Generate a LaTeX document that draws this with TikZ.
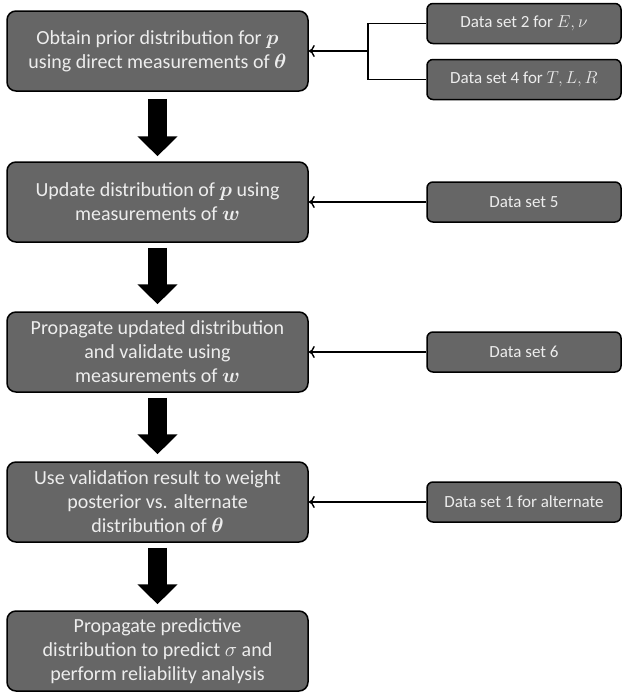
\documentclass[tikz,border=0pt]{standalone}
\usepackage{fontspec}
\setmainfont{Carlito}
\usepackage{amsmath}
\usepackage{tikz}
\usetikzlibrary{positioning}
\usetikzlibrary{arrows.meta}

\tikzset{
  stage/.style={draw=black, line width=1.5pt, fill=black!60, rounded corners=9pt,
    minimum width=301pt, minimum height=80pt, inner sep=0pt, align=center,
    text=white!93!black, font=\fontsize{20}{24}\selectfont},
  dataset/.style={draw=black, line width=1.5pt, fill=black!60, rounded corners=6pt,
    minimum width=194pt, minimum height=40pt, inner sep=0pt, align=center,
    text=white!93!black, font=\fontsize{17}{20}\selectfont},
  feed/.style={draw=black, line width=1.4pt, -{To[length=6pt, width=12pt]}},
  bigarrow/.style={draw=black, line width=19pt, -{Triangle[length=20pt, width=39pt]}}
}

\begin{document}
\begin{tikzpicture}[x=1pt, y=-1pt]
\useasboundingbox (0,0) rectangle (622,694);

% main stages
\node[stage] (obtain) at (157.5,51) {Obtain prior distribution for $\boldsymbol{p}$\\using direct measurements of $\boldsymbol{\theta}$};
\node[stage] (update) at (157.5,202) {Update distribution of $\boldsymbol{p}$ using\\measurements of $\boldsymbol{w}$};
\node[stage] (propagate) at (157.5,352) {Propagate updated distribution\\and validate using\\measurements of $\boldsymbol{w}$};
\node[stage] (weight) at (157.5,502) {Use validation result to weight\\posterior vs. alternate\\distribution of $\boldsymbol{\theta}$};
\node[stage] (predict) at (157.5,651) {Propagate predictive\\distribution to predict $\sigma$ and\\perform reliability analysis};

% data sets
\node[dataset] (ds2) at (524,23.5) {Data set 2 for $E,\nu$};
\node[dataset] (ds4) at (524,79.5) {Data set 4 for $T,L,R$};
\node[dataset] (ds5) at (524,202) {Data set 5};
\node[dataset] (ds6) at (524,352) {Data set 6};
\node[dataset] (ds1) at (524,502) {Data set 1 for alternate};

\coordinate (J) at (368,51);

\draw[black, line width=1.4pt] (ds2.west) -| (J) |- (ds4.west);
\draw[feed] (J) -- (obtain);
\draw[feed] (ds5) -- (update);
\draw[feed] (ds6) -- (propagate);
\draw[feed] (ds1) -- (weight);

\draw[bigarrow] ([yshift=-7pt]obtain.south) -- ([yshift=5pt]update.north);
\draw[bigarrow] ([yshift=-5pt]update.south) -- ([yshift=7pt]propagate.north);
\draw[bigarrow] ([yshift=-5pt]propagate.south) -- ([yshift=7pt]weight.north);
\draw[bigarrow] ([yshift=-5pt]weight.south) -- ([yshift=6pt]predict.north);

\end{tikzpicture}
\end{document}
